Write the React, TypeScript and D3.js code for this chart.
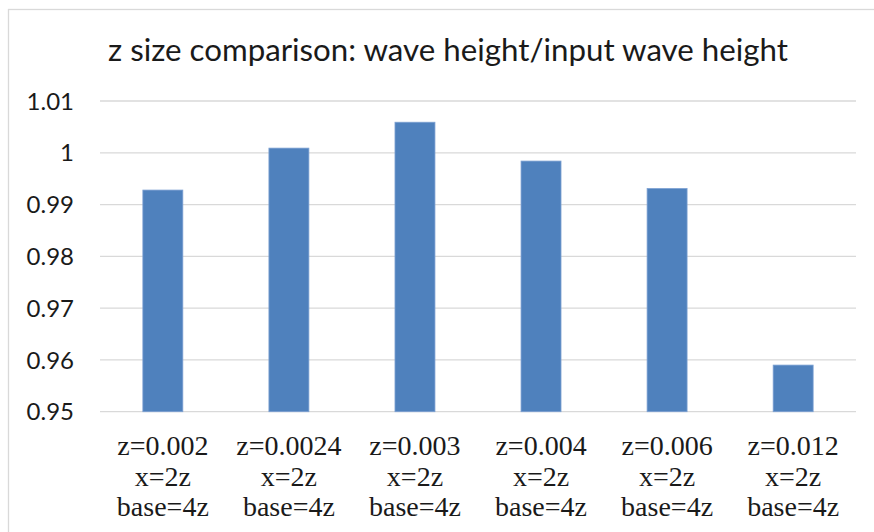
import React from "react";
import * as d3 from "d3";

const categories = ["z=0.002", "z=0.0024", "z=0.003", "z=0.004", "z=0.006", "z=0.012"];
const line2 = "x=2z";
const line3 = "base=4z";
const values = [0.9928, 1.0009, 1.0059, 0.9984, 0.9931, 0.959];
const yTicks = [0.95, 0.96, 0.97, 0.98, 0.99, 1.0, 1.01];
const title = "z size comparison: wave height/input wave height";

export default function App() {
  const W = 874, H = 532;
  const x = d3.scaleBand<string>().domain(categories).range([100, 856]).paddingInner(0.683).paddingOuter(0.34);
  const y = d3.scaleLinear().domain([0.95, 1.01]).range([411.7, 101]);
  const fmt = (v: number) => String(+v.toFixed(2));
  return (
    <svg width={W} height={H} style={{ position: "absolute", left: 0, top: 0, background: "#fff" }}>
      <rect x={8.5} y={9.5} width={W + 20} height={H + 20} fill="#fff" stroke="#D9D9D9" strokeWidth={1.3} />
      <text x={448} y={61} textAnchor="middle" fontFamily="Lato, 'Open Sans', sans-serif" fontSize={30}
        textLength={680} lengthAdjust="spacingAndGlyphs" fill="#1a1a1a">{title}</text>
      {yTicks.map((t) => (
        <g key={t}>
          <line x1={100} x2={856} y1={y(t)} y2={y(t)} stroke="#D9D9D9" strokeWidth={1.3} />
          <text x={74} y={y(t)} dy="0.36em" textAnchor="end" fontFamily="Lato, sans-serif" fontSize={24} fill="#1a1a1a">{fmt(t)}</text>
        </g>
      ))}
      {categories.map((c, i) => (
        <rect key={c} x={x(c)!} width={x.bandwidth()} y={y(values[i])} height={y(0.95) - y(values[i])}
          fill="#4F81BD" stroke="#7CA0D2" strokeWidth={0.8} />
      ))}
      {categories.map((c) => {
        const cx = x(c)! + x.bandwidth() / 2;
        return (
          <text key={c} textAnchor="middle" fontFamily="'Liberation Serif', serif" fontSize={28} fill="#1a1a1a">
            <tspan x={cx} y={455}>{c}</tspan>
            <tspan x={cx} y={485.5}>{line2}</tspan>
            <tspan x={cx} y={516}>{line3}</tspan>
          </text>
        );
      })}
    </svg>
  );
}
